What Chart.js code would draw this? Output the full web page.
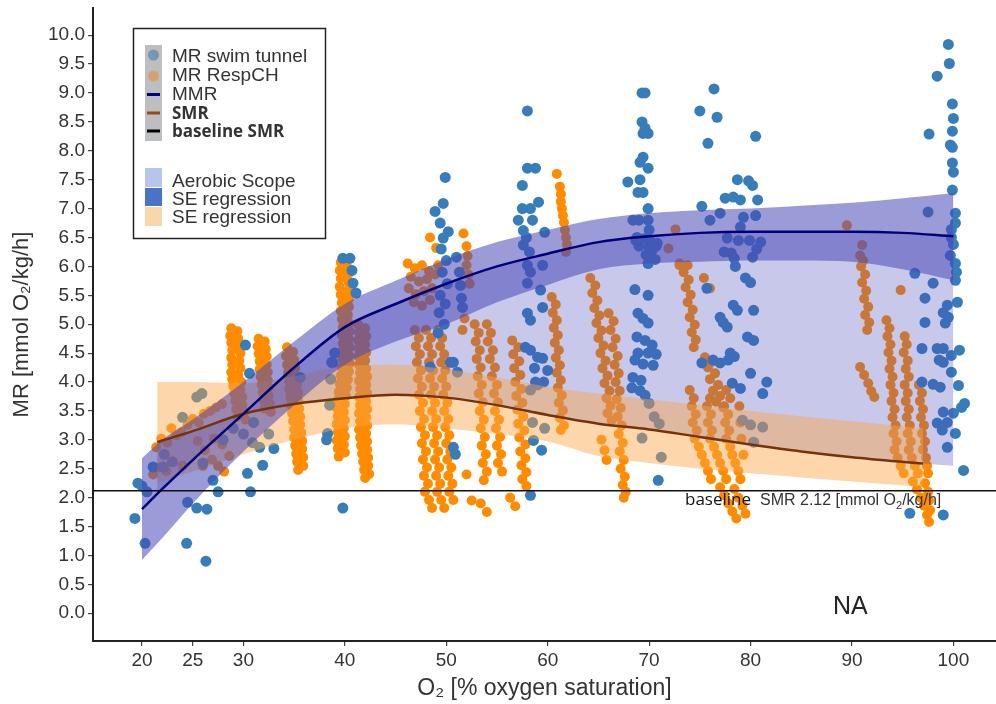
<!DOCTYPE html>
<html>
<head>
<meta charset="utf-8">
<script src="https://cdn.jsdelivr.net/npm/chart.js@4.4.1/dist/chart.umd.min.js"></script>
<style>
  html, body { margin: 0; padding: 0; background: #fff; }
  #wrap { width: 996px; height: 704px; }
</style>
</head>
<body>
<div id="wrap"><canvas id="chart1" width="996" height="704"></canvas></div>
<script>
// tick positions
const xTickValues = [20, 25, 30, 40, 50, 60, 70, 80, 90, 100];
const yTickValues = [0, 0.5, 1, 1.5, 2, 2.5, 3, 3.5, 4, 4.5, 5, 5.5, 6, 6.5, 7, 7.5, 8, 8.5, 9, 9.5, 10];

const baselineSMR = 2.12;

// MMR fit and its SE ribbon
const mmrX  = [20, 22, 25, 30, 35, 40, 45, 50, 55, 60, 65, 70, 75, 80, 85, 90, 95, 100];
const mmrY  = [1.8, 2.15, 2.65, 3.45, 4.25, 4.95, 5.35, 5.7, 6.0, 6.22, 6.42, 6.52, 6.58, 6.6, 6.6, 6.6, 6.58, 6.52];
const mmrLo = [0.92, 1.3, 1.9, 2.8, 3.6, 4.3, 4.7, 5.0, 5.38, 5.68, 5.95, 6.05, 6.08, 6.1, 6.1, 6.08, 5.95, 5.76];
const mmrHi = [2.68, 3.0, 3.35, 4.0, 4.7, 5.35, 5.75, 6.12, 6.42, 6.63, 6.82, 6.92, 6.97, 7.0, 7.05, 7.1, 7.18, 7.27];

// SMR fit and its SE ribbon
const smrX  = [21.5, 25, 30, 35, 40, 45, 50, 55, 60, 65, 70, 75, 80, 85, 90, 97];
const smrY  = [2.96, 3.15, 3.45, 3.62, 3.72, 3.78, 3.73, 3.6, 3.43, 3.28, 3.18, 3.05, 2.92, 2.8, 2.7, 2.59];
const smrLo = [2.25, 2.45, 2.75, 3.0, 3.2, 3.27, 3.2, 3.1, 2.97, 2.72, 2.6, 2.5, 2.42, 2.35, 2.28, 2.19];
const smrHi = [4.0, 4.0, 3.98, 4.1, 4.28, 4.3, 4.22, 4.08, 3.92, 3.8, 3.7, 3.6, 3.5, 3.41, 3.32, 3.2];

// aerobic scope: between SMR and MMR fits
const aeroX  = [21.5, 25, 30, 35, 40, 45, 50, 55, 60, 65, 70, 75, 80, 85, 90, 97, 100];
const aeroLo = [2.96, 3.15, 3.45, 3.62, 3.72, 3.78, 3.73, 3.6, 3.43, 3.28, 3.18, 3.05, 2.92, 2.8, 2.7, 2.59, 2.55];
const aeroHi = [2.05, 2.65, 3.45, 4.25, 4.95, 5.35, 5.7, 6.0, 6.22, 6.42, 6.52, 6.58, 6.6, 6.6, 6.6, 6.56, 6.52];

// MR RespCH measurements [O2, MR]
const respCH = [
  [21.4,2.87],[21.9,3.02],[22.5,2.95],[22.9,3.2],[23.4,3.08],[23.9,3.13],[24.5,3.26],[25.0,3.36],[25.6,3.3],[26.1,3.45],
  [26.7,3.5],[27.3,3.56],[27.9,3.62],[21.1,2.4],[21.7,2.52],[22.4,2.46],[25.5,2.98],[26.2,2.82],[26.9,2.66],[27.5,2.55],
  [28.1,2.45],[28.6,2.72],[27.1,3.02],[27.9,2.92],[26.0,2.55],[24.0,2.55],
  [28.8,4.93],[29.4,4.88],[28.7,4.8],[29.5,4.75],[28.8,4.68],[29.6,4.62],[28.9,4.55],[29.7,4.5],[28.8,4.42],[29.6,4.37],
  [28.9,4.3],[29.7,4.24],[28.8,4.17],[29.5,4.12],[28.9,4.05],[29.8,4.0],[29.0,3.93],[29.7,3.87],[29.1,3.8],[29.9,3.74],
  [29.2,3.67],[29.9,3.6],[29.3,3.53],[30.1,3.48],[29.4,3.4],[30.2,3.35],
  [31.5,4.75],[32.1,4.7],[31.4,4.62],[32.2,4.57],[31.5,4.49],[32.3,4.44],[31.6,4.36],[32.3,4.3],[31.6,4.22],[32.4,4.17],
  [31.7,4.09],[32.4,4.03],[31.8,3.95],[32.5,3.9],[31.9,3.82],[32.5,3.76],[32.0,3.68],[32.6,3.62],[32.1,3.54],[32.7,3.48],
  [34.3,4.6],[34.9,4.52],[34.2,4.45],[35.0,4.38],[34.3,4.3],[35.1,4.24],[34.4,4.16],[35.2,4.1],[34.5,4.02],[35.3,3.95],
  [34.5,3.88],[35.4,3.82],[34.6,3.74],[35.4,3.68],[34.7,3.6],[35.5,3.54],[34.8,3.46],[35.6,3.4],[34.9,3.32],[35.6,3.26],
  [35.0,3.18],[35.7,3.12],[35.0,3.04],[35.8,2.98],[35.1,2.9],[35.8,2.84],[35.2,2.76],[35.9,2.7],[35.3,2.62],[35.9,2.55],[35.4,2.48],
  [39.6,6.07],[40.2,6.0],[39.5,5.93],[40.3,5.86],[39.6,5.79],[40.4,5.72],[39.5,5.65],[40.3,5.58],[39.6,5.51],[40.4,5.44],
  [39.7,5.37],[40.4,5.3],[39.6,5.23],[40.3,5.16],[39.7,5.09],[40.4,5.02],[39.8,4.95],[40.5,4.88],[39.7,4.81],[40.4,4.74],
  [39.8,4.67],[40.5,4.6],[39.7,4.53],[40.4,4.46],[39.8,4.39],[40.5,4.32],[39.7,4.25],[40.4,4.18],[39.6,4.11],[40.3,4.04],
  [39.5,3.97],[40.2,3.9],[39.4,3.83],[40.1,3.76],[39.3,3.69],[40.0,3.62],[39.2,3.55],[39.9,3.48],[39.3,3.41],[40.0,3.34],
  [39.2,3.27],[39.9,3.2],[39.3,3.13],[40.0,3.06],[39.2,2.99],[39.9,2.92],[39.3,2.85],[40.0,2.78],[39.4,2.71],
  [41.3,5.0],[42.0,4.93],[41.4,4.86],[42.1,4.79],[41.3,4.72],[42.0,4.65],[41.4,4.58],[42.1,4.51],[41.3,4.44],[42.0,4.37],
  [41.4,4.3],[42.1,4.23],[41.5,4.16],[42.2,4.09],[41.4,4.02],[42.1,3.95],[41.5,3.88],[42.2,3.81],[41.4,3.74],[42.1,3.67],
  [41.5,3.6],[42.2,3.53],[41.4,3.46],[42.1,3.39],[41.5,3.32],[42.2,3.25],[41.4,3.18],[42.1,3.11],[41.5,3.04],[42.2,2.97],
  [41.6,2.9],[42.2,2.83],[41.7,2.76],[42.3,2.69],[41.8,2.62],[42.3,2.55],[41.9,2.48],[42.4,2.41],[42.0,2.34],
  [46.2,6.05],[46.9,5.97],[47.6,6.02],[48.3,5.92],[46.5,5.82],[47.3,5.74],[48.1,5.78],[46.3,5.62],[47.0,5.52],[47.8,5.57],
  [48.6,5.62],[46.8,5.38],[47.6,5.32],[48.4,5.42],[48.4,6.5],[49.0,6.32],[51.7,6.57],[52.0,6.35],[52.1,6.18],[52.0,6.02],
  [52.2,5.86],[49.2,6.02],[48.9,5.86],[52.3,5.7],
  [46.9,4.9],[48.0,4.9],[49.2,4.9],[47.3,4.76],[48.5,4.76],[49.6,4.76],[47.0,4.62],[48.2,4.62],[49.4,4.62],
  [47.4,4.48],[48.6,4.48],[49.8,4.48],[47.1,4.34],[48.3,4.34],[49.5,4.34],[47.5,4.2],[48.7,4.2],[49.9,4.2],
  [47.2,4.06],[48.4,4.06],[49.6,4.06],[47.6,3.92],[48.8,3.92],[50.0,3.92],[47.3,3.78],[48.5,3.78],[49.7,3.78],
  [47.7,3.64],[48.9,3.64],[50.1,3.64],[47.4,3.5],[48.6,3.5],[49.8,3.5],[47.8,3.36],[49.0,3.36],[50.2,3.36],
  [47.5,3.22],[48.7,3.22],[49.9,3.22],[47.9,3.08],[49.1,3.08],[50.3,3.08],[47.6,2.94],[48.8,2.94],[50.0,2.94],
  [48.0,2.8],[49.2,2.8],[50.4,2.8],[47.7,2.66],[48.9,2.66],[50.1,2.66],[48.1,2.52],[49.3,2.52],[50.5,2.52],
  [47.8,2.38],[49.0,2.38],[50.2,2.38],[48.2,2.24],[49.4,2.24],[50.6,2.24],[47.9,2.1],[49.1,2.1],[50.3,2.1],
  [48.3,1.96],[49.5,1.96],[50.7,1.96],[48.6,1.82],[49.8,1.82],
  [52.8,5.0],[54.0,5.0],[53.2,4.85],[54.4,4.85],[52.9,4.7],[54.1,4.7],[53.3,4.55],[54.6,4.55],[53.0,4.4],[54.3,4.4],
  [53.4,4.25],[54.8,4.25],[53.1,4.1],[54.5,4.1],[53.5,3.95],[55.0,3.95],[53.2,3.8],[54.7,3.8],[53.6,3.65],[55.1,3.65],
  [53.3,3.5],[54.8,3.5],[53.7,3.35],[55.2,3.35],[53.4,3.2],[54.9,3.2],[53.8,3.05],[55.3,3.05],[53.5,2.9],[55.0,2.9],
  [53.9,2.75],[55.4,2.75],[53.6,2.6],[55.1,2.6],[54.0,2.45],[55.5,2.45],[53.7,2.3],
  [52.5,1.95],[53.4,1.9],[54.0,1.75],[52.0,2.4],[51.8,5.1],[51.6,4.9],
  [56.5,4.72],[57.1,4.6],[56.6,4.48],[57.2,4.36],[56.7,4.24],[57.3,4.12],[56.8,4.0],[57.4,3.88],[56.9,3.76],[57.5,3.64],
  [57.0,3.52],[57.6,3.4],[57.1,3.28],[57.7,3.16],[57.2,3.04],[57.8,2.92],[57.3,2.8],[57.8,2.68],[57.4,2.56],[57.9,2.44],
  [57.5,2.32],[57.9,2.2],[56.3,2.0],[56.8,1.85],
  [60.9,7.6],[61.2,7.38],[61.3,7.25],[61.3,7.12],[61.4,7.0],[61.5,6.88],[61.6,6.76],[61.7,6.63],[61.8,6.5],[61.9,6.38],[61.8,6.25],
  [60.4,5.47],[60.8,5.34],[60.5,5.2],[60.9,5.07],[60.6,4.94],[61.0,4.81],[60.7,4.68],[61.1,4.55],[60.8,4.42],[61.2,4.29],
  [60.9,4.16],[61.3,4.03],[61.0,3.9],[61.4,3.77],[61.1,3.64],[61.5,3.51],[61.2,3.38],[61.6,3.25],[61.3,3.17],
  [64.2,5.8],[64.7,5.67],[64.4,5.54],[64.9,5.41],[64.6,5.28],[65.1,5.15],[64.8,5.02],[65.3,4.89],[65.0,4.76],[65.5,4.63],
  [65.2,4.5],[65.7,4.37],[65.4,4.24],[65.9,4.11],[65.6,3.98],[66.1,3.85],[65.8,3.72],[66.2,3.59],[65.9,3.46],[66.3,3.34],
  [66.0,5.19],[66.5,5.05],[66.2,4.9],[66.7,4.75],[66.4,4.6],[66.9,4.45],[66.6,4.3],[67.0,4.15],[66.7,4.0],[67.1,3.85],
  [66.8,3.7],[67.2,3.55],[66.9,3.4],[67.3,3.25],[67.0,3.1],[67.4,2.95],[67.1,2.8],[67.5,2.65],[67.2,2.5],[67.6,2.36],
  [67.4,2.22],[67.7,2.1],[67.5,2.0],[65.3,3.0],[65.6,2.82],[65.8,2.65],
  [73.0,6.05],[73.8,6.02],[73.4,5.9],[73.9,5.77],[73.6,5.64],[74.1,5.51],[73.8,5.38],[74.3,5.25],[74.0,5.12],[74.5,4.99],
  [74.2,4.86],[74.6,4.73],[74.4,4.6],[76.0,5.62],[75.4,5.8],[72.6,6.64],[71.9,6.31],[73.0,6.02],
  [75.5,4.43],[76.2,4.35],[75.8,4.25],[76.5,4.15],[76.0,4.05],[76.8,3.95],[76.3,3.85],[77.0,3.76],[76.6,3.66],[77.3,3.56],
  [74.0,3.86],[77.6,3.86],[74.4,3.72],[76.0,3.72],[78.0,3.72],[74.2,3.58],[75.7,3.58],[77.4,3.58],[78.9,3.58],
  [74.6,3.44],[76.1,3.44],[77.8,3.44],[74.3,3.3],[75.8,3.3],[77.5,3.3],[79.0,3.3],[74.7,3.16],[76.2,3.16],[77.9,3.16],
  [74.5,3.02],[76.0,3.02],[77.6,3.02],[79.1,3.02],[74.9,2.88],[76.4,2.88],[78.0,2.88],[75.2,2.74],[76.7,2.74],[78.2,2.74],[79.3,2.74],
  [75.5,2.6],[77.0,2.6],[78.5,2.6],[75.8,2.46],[77.3,2.46],[78.8,2.46],[76.1,2.32],[77.6,2.32],[79.0,2.32],
  [77.0,2.18],[78.4,2.15],[77.4,2.04],[78.8,2.0],[77.8,1.9],[79.2,1.86],[78.2,1.76],[79.5,1.72],[78.6,1.64],
  [89.5,6.71],[91.0,6.37],[90.8,6.19],[91.1,6.1],[94.8,5.59],
  [90.9,6.0],[91.3,5.86],[91.0,5.72],[91.4,5.58],[91.2,5.44],[91.6,5.3],[91.3,5.16],[91.7,5.03],[91.5,4.9],
  [90.8,4.26],[91.2,4.12],[91.6,3.98],[91.9,3.84],[92.2,3.74],
  [93.4,5.07],[93.7,4.93],[93.5,4.79],[95.2,4.79],[93.8,4.65],[95.4,4.65],[93.6,4.51],[95.1,4.51],[93.9,4.37],[95.5,4.37],
  [93.7,4.23],[95.3,4.23],[94.0,4.09],[95.6,4.09],[93.8,3.95],[95.2,3.95],[96.6,3.95],[94.1,3.81],[95.5,3.81],[96.9,3.81],
  [93.9,3.67],[95.3,3.67],[96.7,3.67],[94.2,3.53],[95.6,3.53],[97.0,3.53],[94.0,3.39],[95.4,3.39],[96.8,3.39],
  [94.3,3.25],[95.7,3.25],[97.1,3.25],[94.1,3.11],[95.5,3.11],[96.9,3.11],[94.4,2.97],[95.8,2.97],[97.2,2.97],
  [94.2,2.83],[95.6,2.83],[97.0,2.83],[94.5,2.69],[95.9,2.69],[97.3,2.69],[94.8,2.55],[96.2,2.55],[97.4,2.55],
  [95.1,2.42],[96.5,2.42],[97.5,2.42],
  [96.0,2.28],[97.2,2.25],[96.4,2.14],[97.5,2.1],[96.8,2.0],[97.6,1.95],[97.1,1.86],[97.7,1.78],[97.4,1.7],[97.6,1.58]
];

// MR swim tunnel measurements [O2, MR]
const swimTunnel = [
  [19.3,1.64],[20.3,1.21],[21.1,2.53],[22.1,2.53],[20.5,2.1],[19.6,2.25],[20.0,2.2],[24.5,1.92],[25.4,1.82],[26.4,1.8],
  [24.4,1.21],[26.3,0.9],[30.2,4.64],[30.7,2.1],[30.4,2.42],[31.9,2.56],[31.6,2.87],[30.9,2.95],[25.4,3.74],[25.9,3.8],
  [24.0,3.39],[30.6,4.15],[23.0,2.62],[22.2,2.75],[28.0,3.0],[29.0,3.2],[30.0,3.1],[31.0,3.3],[32.5,3.1],[33.0,2.85],
  [27.0,2.3],[27.5,2.1],[26.0,2.6],[35.6,4.08],
  [39.8,1.82],[38.3,3.11],[38.8,4.33],[39.8,6.14],[40.5,6.14],[40.7,5.93],[40.8,5.71],[41.1,5.54],[38.7,4.34],[39.0,4.5],
  [38.5,3.6],[38.2,3.0],[38.6,4.05],
  [49.9,7.54],[49.7,7.09],[49.4,6.75],[49.7,6.49],[49.5,6.3],[50.0,6.1],[49.6,5.9],[50.1,5.7],[49.4,5.5],[49.9,5.35],
  [49.3,5.2],[49.8,5.0],[49.2,4.85],[48.4,4.26],[50.7,4.34],[50.4,4.34],[51.1,4.17],[50.7,2.87],[50.9,2.75],[51.0,6.16],
  [51.4,5.67],[51.6,5.29],[51.5,5.45],[51.3,5.9],[48.9,6.95],[50.2,6.6],
  [58.0,8.69],[58.0,7.7],[58.8,7.7],[57.5,7.4],[57.5,7.0],[58.3,7.0],[59.1,7.11],[57.1,6.8],[58.5,6.8],[57.6,6.62],
  [59.7,6.59],[57.6,6.37],[58.0,6.02],[58.3,5.9],[59.5,6.02],[58.0,5.71],[59.3,5.59],[59.5,5.29],[58.0,5.19],[58.3,5.07],
  [57.8,4.6],[58.3,4.55],[59.0,4.43],[59.5,4.41],[58.7,4.24],[60.0,4.2],[58.8,4.0],[59.6,4.0],[58.3,3.86],[59.0,3.95],
  [58.5,3.3],[59.7,3.2],[58.3,2.04],[58.6,2.99],[59.4,2.82],[57.9,6.5],[58.2,6.25],
  [69.3,9.0],[69.6,9.0],[69.3,8.5],[69.6,8.39],[69.9,8.3],[69.4,8.3],[69.4,7.89],[69.1,7.8],[69.9,7.7],[67.9,7.46],
  [69.1,7.5],[68.9,7.28],[69.4,7.28],[69.9,7.0],[68.4,6.8],[69.0,6.8],[69.9,6.8],[70.0,6.63],[68.8,6.5],[69.5,6.48],
  [70.1,6.44],[70.8,6.4],[69.0,6.35],[70.0,6.33],[70.7,6.35],[69.7,6.2],[70.6,6.12],[68.7,6.45],[70.3,6.28],[69.9,6.05],
  [68.6,5.6],[69.9,5.5],[68.9,5.19],[69.4,5.1],[69.9,5.02],[68.8,4.78],[69.6,4.72],[70.3,4.64],[68.9,4.5],[69.9,4.5],
  [70.7,4.48],[68.6,4.38],[69.4,4.31],[70.4,4.29],[68.4,4.08],[69.2,4.03],[68.3,3.9],[69.1,3.85],[69.6,3.77],[70.0,3.63],
  [70.5,3.4],[71.0,3.28],[69.3,3.03],[71.2,2.7],[70.9,2.3],
  [76.4,9.07],[75.0,8.69],[76.7,8.58],[75.8,8.13],[80.5,8.25],[78.7,7.5],[79.8,7.48],[80.2,7.4],[77.5,7.18],[78.3,7.2],
  [79.0,7.15],[80.7,7.15],[75.2,7.04],[77.0,6.92],[76.0,6.8],[79.3,6.85],[80.5,6.88],[79.0,6.68],[77.7,6.49],[78.8,6.45],
  [79.9,6.45],[81.0,6.42],[77.4,6.25],[78.1,6.23],[78.4,6.14],[80.2,6.16],[79.5,5.8],[80.0,5.72],[78.3,5.33],[78.7,5.24],
  [77.0,5.12],[77.3,5.03],[77.7,4.95],[80.3,5.24],[79.7,4.78],[80.3,4.72],[78.0,4.5],[78.4,4.44],[77.8,4.38],[76.3,4.38],
  [77.0,4.33],[75.2,4.33],[80.0,4.15],[78.2,3.98],[79.0,3.89],[81.6,4.0],[81.2,3.8],[79.2,3.34],[80.0,3.26],[81.2,3.22],
  [80.3,2.96],[75.7,5.62],[78.5,6.0],[80.6,6.3],
  [99.5,9.84],[99.6,9.51],[98.4,9.29],[99.9,8.81],[100.0,8.56],[99.9,8.34],[97.6,8.29],[99.7,8.1],[99.9,8.06],[99.9,7.79],
  [100.0,7.63],[99.9,7.32],[100.2,6.92],[97.5,6.94],[100.2,6.75],[99.8,6.64],[99.8,6.5],[100.0,6.38],[99.7,6.19],[100.2,6.05],
  [100.3,5.9],[100.2,5.76],[96.2,5.88],[98.0,5.71],[97.2,5.45],[99.4,5.33],[100.4,5.38],[99.0,5.2],[99.5,5.12],[97.2,5.03],
  [99.2,5.02],[96.9,4.58],[98.4,4.58],[99.0,4.58],[100.6,4.55],[99.8,4.46],[98.6,4.38],[99.0,4.34],[99.8,4.17],[96.9,4.0],
  [98.0,3.96],[98.7,3.91],[100.5,3.94],[101.1,3.63],[100.8,3.56],[99.0,3.48],[100.0,3.46],[98.4,3.29],[99.4,3.3],[98.9,3.17],
  [100.2,3.11],[99.4,2.87],[101.0,2.47],[95.7,1.73],[99.0,1.7]
];

const toXY = (xs, ys) => xs.map((x, i) => ({ x: x, y: ys[i] }));
const pairs = (arr) => arr.map(p => ({ x: p[0], y: p[1] }));

const hidden = { borderColor: 'rgba(0,0,0,0)', borderWidth: 0, pointRadius: 0, fill: false, cubicInterpolationMode: 'monotone' };

const textFont = "'Liberation Sans', Arial, sans-serif";
const narrowFont = "'Liberation Sans Narrow', 'Arial Narrow', 'Liberation Sans', sans-serif";

// legend, baseline and annotations drawn on top
const extras = {
  id: 'extras',
  afterDatasetsDraw(chart) {
    const c = chart.ctx;
    const area = chart.chartArea;
    const yb = chart.scales.y.getPixelForValue(baselineSMR);
    c.save();
    c.strokeStyle = '#111';
    c.lineWidth = 1.5;
    c.beginPath();
    c.moveTo(area.left, yb);
    c.lineTo(area.right, yb);
    c.stroke();

    // baseline label
    c.textBaseline = 'alphabetic';
    c.fillStyle = '#111';
    c.font = "17px 'Open Sans', sans-serif";
    c.fillText('baseline', 685, 505);
    c.fillStyle = '#333';
    c.font = '16px ' + textFont;
    let tx = 760;
    c.fillText('SMR 2.12 [mmol O', tx, 505);
    tx += c.measureText('SMR 2.12 [mmol O').width;
    c.font = '11px ' + textFont;
    c.fillText('2', tx, 509);
    tx += c.measureText('2').width;
    c.font = '16px ' + textFont;
    c.fillText('/kg/h]', tx, 505);

    // NA
    c.fillStyle = '#222';
    c.font = '25px ' + textFont;
    c.textBaseline = 'middle';
    c.fillText('NA', 833, 607);
    c.restore();
  },
  afterDraw(chart) {
    const c = chart.ctx;
    c.save();
    c.fillStyle = '#fff';
    c.fillRect(133.5, 28.5, 192, 210);
    c.strokeStyle = '#222';
    c.lineWidth = 1.5;
    c.strokeRect(133.5, 28.5, 192, 210);

    c.fillStyle = 'rgb(188,190,191)';
    c.fillRect(145, 45, 17, 96);

    c.fillStyle = 'rgb(118,150,178)';
    c.beginPath(); c.arc(153.5, 55, 5.5, 0, Math.PI * 2); c.fill();
    c.fillStyle = 'rgb(214,160,112)';
    c.beginPath(); c.arc(153.5, 76, 5.5, 0, Math.PI * 2); c.fill();

    const keyLine = (y, col) => {
      c.strokeStyle = col; c.lineWidth = 3;
      c.beginPath(); c.moveTo(147, y); c.lineTo(160, y); c.stroke();
    };
    keyLine(94.5, '#00008b');
    keyLine(113, 'rgb(150,75,20)');
    keyLine(131, '#000');

    c.fillStyle = 'rgb(183,197,235)'; c.fillRect(145, 168, 17, 19);
    c.fillStyle = 'rgb(72,115,200)'; c.fillRect(145, 188, 17, 18);
    c.fillStyle = 'rgb(248,215,170)'; c.fillRect(145, 207, 17, 19);

    c.textBaseline = 'middle';
    c.fillStyle = '#333';
    c.font = '19px ' + textFont;
    c.fillText('MR swim tunnel', 172, 57);
    c.fillText('MR RespCH', 172, 76);
    c.fillText('MMR', 172, 95);
    c.fillText('Aerobic Scope', 172, 182);
    c.fillText('SE regression', 172, 200);
    c.fillText('SE regression', 172, 218);
    c.font = "bold 17px 'Open Sans', sans-serif";
    c.fillText('SMR', 172, 114);
    c.fillText('baseline SMR', 172, 132);
    c.restore();
  }
};

const ctx = document.getElementById('chart1');
const chart = new Chart(ctx, {
  type: 'line',
  data: {
    datasets: [
      { label: 'MR RespCH', data: pairs(respCH), showLine: false, pointRadius: 5, pointBorderWidth: 0,
        pointBackgroundColor: 'rgb(255,140,0)', pointBorderColor: 'rgb(255,140,0)', order: 11 },
      { label: 'MR swim tunnel', data: pairs(swimTunnel), showLine: false, pointRadius: 5.5, pointBorderWidth: 0,
        pointBackgroundColor: 'rgb(55,125,185)', pointBorderColor: 'rgb(55,125,185)', order: 10 },
      Object.assign({ label: 'aeroLo', data: toXY(aeroX, aeroLo), order: 20 }, hidden),
      Object.assign({}, hidden, { label: 'Aerobic Scope', data: toXY(aeroX, aeroHi), order: 7,
        fill: { target: 2 }, backgroundColor: 'rgba(72,72,188,0.3)' }),
      Object.assign({ label: 'smrLo', data: toXY(smrX, smrLo), order: 20 }, hidden),
      Object.assign({}, hidden, { label: 'SE SMR', data: toXY(smrX, smrHi), order: 6,
        fill: { target: 4 }, backgroundColor: 'rgba(250,165,70,0.45)' }),
      Object.assign({ label: 'mmrLo', data: toXY(mmrX, mmrLo), order: 20 }, hidden),
      Object.assign({}, hidden, { label: 'SE MMR', data: toXY(mmrX, mmrHi), order: 5,
        fill: { target: 6 }, backgroundColor: 'rgba(73,73,182,0.55)' }),
      { label: 'SMR', data: toXY(smrX, smrY), borderColor: 'rgb(115,52,12)', borderWidth: 2.5, pointRadius: 0,
        fill: false, cubicInterpolationMode: 'monotone', order: 2 },
      { label: 'MMR', data: toXY(mmrX, mmrY), borderColor: '#00007a', borderWidth: 2.5, pointRadius: 0,
        fill: false, cubicInterpolationMode: 'monotone', order: 1 }
    ]
  },
  options: {
    responsive: false,
    animation: false,
    events: [],
    layout: { autoPadding: false, padding: { top: 8, right: 0, left: 0, bottom: 0 } },
    plugins: {
      legend: { display: false },
      tooltip: { enabled: false }
    },
    scales: {
      x: {
        type: 'linear',
        min: 15.17,
        max: 104.2,
        afterBuildTicks: (s) => { s.ticks = xTickValues.map(v => ({ value: v })); },
        afterFit: (s) => { s.height = 63; s.paddingLeft = 0; s.paddingRight = 0; },
        grid: { drawOnChartArea: false, drawTicks: true, tickLength: 5, color: '#444', lineWidth: 1.2 },
        border: { display: true, color: '#222', width: 2 },
        ticks: { color: '#333', font: { family: narrowFont, size: 19 }, padding: 3, maxRotation: 0, autoSkip: false,
          callback: (v) => String(v) },
        title: { display: true, text: 'O₂ [% oxygen saturation]', color: '#333',
          font: { family: textFont, size: 23 }, padding: { top: 0, bottom: 2 } }
      },
      y: {
        type: 'linear',
        min: -0.48,
        max: 10.47,
        afterBuildTicks: (s) => { s.ticks = yTickValues.map(v => ({ value: v })); },
        afterFit: (s) => { s.width = 93; s.paddingTop = 0; s.paddingBottom = 0; },
        grid: { drawOnChartArea: false, drawTicks: true, tickLength: 5, color: '#444', lineWidth: 1.2 },
        border: { display: true, color: '#222', width: 2 },
        ticks: { color: '#333', font: { family: textFont, size: 19 }, padding: 3, autoSkip: false,
          callback: (v) => Number(v).toFixed(1) },
        title: { display: true, text: 'MR [mmol O₂/kg/h]', color: '#333',
          font: { family: textFont, size: 22 }, padding: { top: 9, bottom: 0 } }
      }
    }
  },
  plugins: [extras]
});
</script>
</body>
</html>
